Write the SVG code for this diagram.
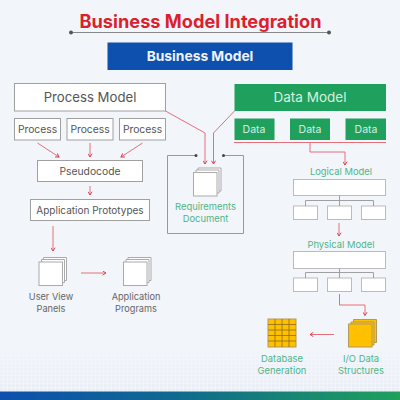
<svg xmlns="http://www.w3.org/2000/svg" width="400" height="400" viewBox="0 0 400 400">
<style>
text{font-family:Inter,"Noto Sans","Liberation Sans",sans-serif;text-anchor:middle}
.box{fill:#fff;stroke:#a0a0a0;stroke-width:1}
.soft{fill:#fff;stroke:#bbb;stroke-width:1}
.grn{fill:#1fa05c}
.t{fill:#555;font-size:10.3px}
.lab{fill:#666;font-size:9.2px}
.g{fill:#4fb588;font-size:9.4px}
.wt{fill:#d8f0e2;font-size:10.5px}
.c{fill:none;stroke:#e4707a;stroke-width:1}
.tree{fill:none;stroke:#a0a0a0;stroke-width:1}
.pg{fill:#fff;stroke:#aaa;stroke-width:1}
.yl{fill:#ffc000;stroke:#b3995a;stroke-width:1}
</style>
<defs>
<marker id="a" viewBox="0 0 6 6" refX="5" refY="3" markerWidth="5" markerHeight="5" markerUnits="userSpaceOnUse" orient="auto"><path d="M1 .5L5 3L1 5.500" fill="none" stroke="#d93a48" stroke-width="1.100"/></marker>
<linearGradient id="bar" x1="0" x2="1" y1="0" y2="0"><stop offset="0" stop-color="#0d50ae"/><stop offset=".45" stop-color="#0f6a8e"/><stop offset="1" stop-color="#1fa05c"/></linearGradient>
<pattern id="dots" width="4" height="4" patternUnits="userSpaceOnUse"><rect width="3" height="3" fill="#e9edf4"/></pattern>
<linearGradient id="fade" x1="0" x2="0" y1="0" y2="1"><stop offset="0" stop-color="#fff" stop-opacity="0"/><stop offset="1" stop-color="#fff" stop-opacity="1"/></linearGradient>
<mask id="m"><rect y="350" width="400" height="41" fill="url(#fade)"/></mask>
<g id="stack"><path class="pg" d="M4.500 -4.500H27.500V18.500H4.500Z"/><path class="pg" d="M2.500 -2.500H25.500V20.500H2.500Z"/><rect class="pg" width="23.500" height="23.500"/></g>
</defs>
<rect width="400" height="400" fill="#f2f5fa"/>
<rect y="350" width="400" height="41" fill="url(#dots)" mask="url(#m)"/>
<rect y="391.500" width="400" height="8.500" fill="url(#bar)"/>
<g id="title">
<text x="200.500" y="27.500" font-size="18.200" font-weight="700" fill="#dc1f2e">Business Model Integration</text>
<path d="M71 32.500H329" stroke="#888" stroke-width="1"/>
<circle cx="71" cy="32.500" r="2" fill="#555"/><circle cx="329" cy="32.500" r="2" fill="#555"/>
</g>
<g id="business-model"><rect x="107.500" y="42.500" width="185" height="27.500" fill="#0d50ae"/><text x="200" y="60.500" font-size="13.800" font-weight="700" fill="#eef3fb">Business Model</text></g>
<g id="process-model"><rect class="box" x="14.500" y="83.500" width="151" height="27.500"/><text x="90" y="102" font-size="13.200" fill="#555">Process Model</text></g>
<g id="data-model"><rect class="grn" x="234.500" y="84" width="151.500" height="27"/><text x="310" y="102" font-size="13.500" fill="#d8f0e2">Data Model</text></g>
<g id="process-1"><rect class="box" x="14.500" y="118.500" width="46" height="21.500"/><text class="t" x="37.500" y="133">Process</text></g>
<g id="process-2"><rect class="box" x="67" y="118.500" width="46" height="21.500"/><text class="t" x="90" y="133">Process</text></g>
<g id="process-3"><rect class="box" x="119.500" y="118.500" width="46" height="21.500"/><text class="t" x="142.500" y="133">Process</text></g>
<g id="pseudocode"><rect class="box" x="37.500" y="160.500" width="105" height="21"/><text class="t" x="90" y="175">Pseudocode</text></g>
<g id="app-prototypes"><rect class="box" x="30.500" y="199.500" width="119" height="21"/><text class="t" x="90" y="214" style="font-size:10px">Application Prototypes</text></g>
<g id="data-1"><rect class="grn" x="234.500" y="118.500" width="40" height="21.500"/><text class="wt" x="254" y="133">Data</text></g>
<g id="data-2"><rect class="grn" x="290" y="118.500" width="40" height="21.500"/><text class="wt" x="310" y="133">Data</text></g>
<g id="data-3"><rect class="grn" x="345.500" y="118.500" width="40.500" height="21.500"/><text class="wt" x="366" y="133">Data</text></g>
<g id="requirements">
<path d="M196 155.500H167.500V233.500H243.500V155.500H223.500" fill="none" stroke="#999" stroke-width="1"/>
<circle cx="196" cy="155.500" r="1.500" fill="#444"/><circle cx="223.500" cy="155.500" r="1.500" fill="#444"/>
<use href="#stack" x="193.500" y="172.500"/>
<text class="g" x="205.500" y="210">Requirements</text><text class="g" x="205.500" y="222">Document</text>
</g>
<g id="user-view"><use href="#stack" x="39" y="262"/><text class="lab" x="51" y="300">User View</text><text class="lab" x="51" y="312">Panels</text></g>
<g id="app-programs"><use href="#stack" x="123.500" y="262"/><text class="lab" x="136" y="300">Application</text><text class="lab" x="136" y="312">Programs</text></g>
<g id="logical-model">
<text class="g" x="341" y="175">Logical Model</text>
<rect class="soft" x="293.500" y="179.500" width="92" height="16"/>
<rect class="soft" x="293.500" y="206" width="24" height="13.500"/><rect class="soft" x="327.500" y="206" width="24" height="13.500"/><rect class="soft" x="361.500" y="206" width="24" height="13.500"/>
<path class="tree" d="M339.500 195.500V200M305.500 206V200.500H373.500V206M339.500 200V206"/>
</g>
<g id="physical-model">
<text class="g" x="341" y="247.500">Physical Model</text>
<rect class="soft" x="293.500" y="251.500" width="92" height="17"/>
<rect class="soft" x="293.500" y="278" width="24" height="13.500"/><rect class="soft" x="327.500" y="278" width="24" height="13.500"/><rect class="soft" x="361.500" y="278" width="24" height="13.500"/>
<path class="tree" d="M339.500 268.500V272M305.500 278V272.500H373.500V278M339.500 272V278"/>
</g>
<g id="io-structures">
<path class="yl" d="M353.500 319.500H376.500V342.500H353.500Z"/><path class="yl" d="M351 322H374V345H351Z"/><rect class="yl" x="348.500" y="324" width="23.500" height="23"/>
<text class="g" x="361" y="362">I/O Data</text><text class="g" x="361" y="374">Structures</text>
</g>
<g id="database">
<rect class="yl" x="268" y="319" width="28" height="28"/>
<path d="M268 324.500H296M268 330H296M268 335.500H296M268 341H296M275 319V347M282 319V347M289 319V347" stroke="#8a6d1c" stroke-width=".8" fill="none"/>
<text class="g" x="282" y="362">Database</text><text class="g" x="282" y="374">Generation</text>
</g>
<g id="connectors">
<path class="c" marker-end="url(#a)" d="M165.500 111L205 133V164"/>
<path class="c" marker-end="url(#a)" d="M234.500 111L213.500 133V164"/>
<path class="c" marker-end="url(#a)" d="M37.500 143L59 157"/>
<path class="c" marker-end="url(#a)" d="M90 143V157"/>
<path class="c" marker-end="url(#a)" d="M142.500 143L121 157"/>
<path class="c" marker-end="url(#a)" d="M90 186V195"/>
<path class="c" marker-end="url(#a)" d="M53 226V251"/>
<path class="c" marker-end="url(#a)" d="M81 273H106"/>
<path class="c" d="M234 142.500H386"/>
<path class="c" marker-end="url(#a)" d="M310 142.500V152H345V165"/>
<path class="c" marker-end="url(#a)" d="M339 223V236"/>
<path class="c" marker-end="url(#a)" d="M339.500 294V305H365V315.500"/>
<path class="c" marker-end="url(#a)" d="M334 334.500H310"/>
</g>
</svg>
